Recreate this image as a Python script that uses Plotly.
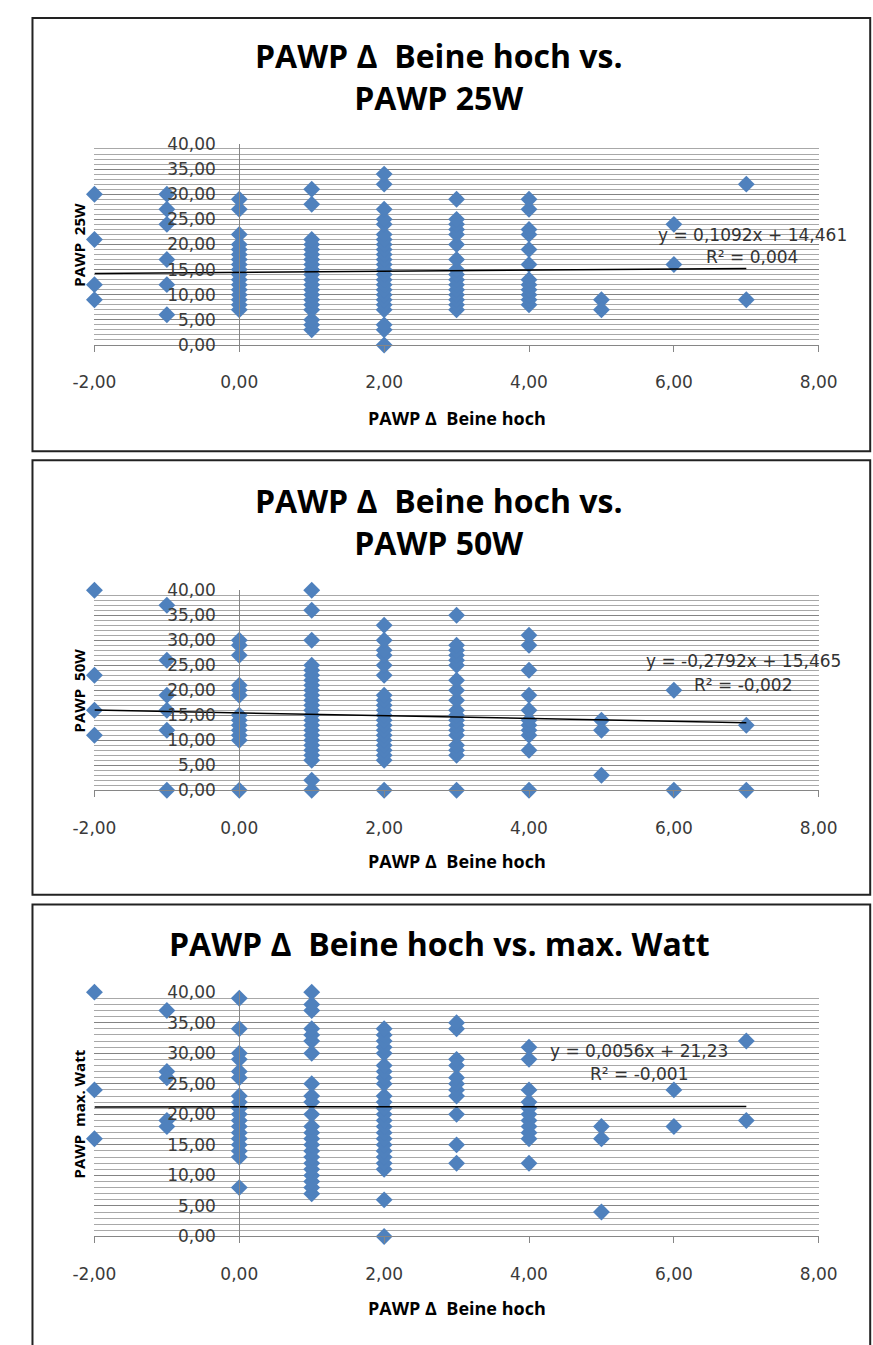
import plotly.graph_objects as go

# ---------------- data ----------------
# Panel 1: PAWP delta "Beine hoch" (x) vs PAWP 25W (y)
p1_x = ([-2] * 4 + [-1] * 6 + [0] * 17 + [1] * 20 + [2] * 24 + [3] * 16 + [4] * 12
        + [5] * 2 + [6] * 2 + [7] * 2)
p1_y = ([30, 21, 12, 9]
        + [30, 27, 24, 17, 12, 6]
        + [7, 8, 9, 10, 11, 12, 13, 14, 15, 16, 17, 18, 19, 20, 22, 27, 29]
        + [3, 4, 5, 7, 8, 9, 10, 11, 12, 13, 14, 15, 16, 17, 18, 19, 20, 21, 28, 31]
        + [0, 3, 4, 7, 8, 9, 10, 11, 12, 13, 14, 15, 16, 17, 18, 19, 20, 21, 22, 24, 25, 27, 32, 34]
        + [7, 8, 9, 10, 11, 12, 13, 14, 15, 17, 20, 22, 23, 24, 25, 29]
        + [8, 9, 10, 11, 12, 13, 16, 19, 22, 23, 27, 29]
        + [9, 7]
        + [24, 16]
        + [32, 9])

# Panel 2: PAWP delta vs PAWP 50W
p2_x = ([-2] * 4 + [-1] * 6 + [0] * 13 + [1] * 25 + [2] * 21 + [3] * 19 + [4] * 11
        + [5] * 3 + [6] * 2 + [7] * 2)
p2_y = ([40, 23, 16, 11]
        + [37, 26, 19, 16, 12, 0]
        + [0, 10, 11, 12, 13, 14, 15, 19, 20, 21, 27, 29, 30]
        + [0, 2, 6, 7, 8, 9, 10, 11, 12, 13, 14, 15, 16, 17, 18, 19, 20, 21, 22, 23, 24, 25, 30, 36, 40]
        + [0, 6, 7, 8, 9, 10, 11, 12, 13, 14, 15, 16, 17, 18, 19, 23, 25, 27, 28, 30, 33]
        + [0, 7, 8, 9, 11, 12, 13, 14, 15, 16, 18, 20, 22, 25, 26, 27, 28, 29, 35]
        + [0, 8, 11, 12, 13, 14, 16, 19, 24, 29, 31]
        + [14, 12, 3]
        + [20, 0]
        + [13, 0])

# Panel 3: PAWP delta vs max. Watt
p3_x = ([-2] * 3 + [-1] * 5 + [0] * 18 + [1] * 23 + [2] * 24 + [3] * 11 + [4] * 11
        + [5] * 3 + [6] * 2 + [7] * 2)
p3_y = ([40, 24, 16]
        + [37, 27, 26, 19, 18]
        + [8, 13, 14, 15, 16, 17, 18, 19, 20, 21, 22, 23, 26, 27, 29, 30, 34, 39]
        + [7, 8, 9, 10, 11, 12, 13, 14, 15, 16, 17, 18, 20, 22, 23, 25, 30, 32, 33, 34, 37, 38, 40]
        + [0, 6, 11, 12, 13, 14, 15, 16, 17, 18, 19, 20, 21, 22, 23, 25, 26, 27, 28, 30, 31, 32, 33, 34]
        + [12, 15, 20, 23, 24, 25, 26, 28, 29, 34, 35]
        + [12, 16, 17, 18, 19, 20, 21, 22, 24, 29, 31]
        + [18, 16, 4]
        + [24, 18]
        + [32, 19])

# Trend lines as printed on the chart
trend_slope = [0.1092, -0.2792, 0.0056]
trend_intercept = [14.461, 15.465, 21.23]
trend_eq = ["y = 0,1092x + 14,461", "y = -0,2792x + 15,465", "y = 0,0056x + 21,23"]
trend_r2 = ["R² = 0,004", "R² = -0,002", "R² = -0,001"]

titles = ["PAWP Δ  Beine hoch vs.<br>PAWP 25W",
          "PAWP Δ  Beine hoch vs.<br>PAWP 50W",
          "PAWP Δ  Beine hoch vs. max. Watt"]
y_titles = ["PAWP  25W", "PAWP  50W", "PAWP  max. Watt"]
x_title = "PAWP Δ  Beine hoch"

x_tick_vals = [-2, 0, 2, 4, 6, 8]
x_tick_text = ["-2,00", "0,00", "2,00", "4,00", "6,00", "8,00"]
y_tick_vals = [0, 5, 10, 15, 20, 25, 30, 35, 40]
y_tick_text = ["0,00", "5,00", "10,00", "15,00", "20,00", "25,00", "30,00", "35,00", "40,00"]

# ---------------- layout helpers ----------------
W, H = 873, 1345


def px_x(v):
    return v / W


def px_y(v):
    return 1 - v / H


MARKER = "#4F81BD"
GRID_MAJOR = "#848484"
GRID_MINOR = "#a8a8a8"
AXIS = "#868686"
TICKFONT = dict(family="DejaVu Sans", size=17, color="#3a3a3a")

plot_left, plot_right = 76, 836
panels = [  # (top px of y=40, bottom px of y=0)
    (136, 340),
    (589, 792),
    (997, 1245),
]
boxes = [(8, 448), (457, 898), (908, 1370)]
title_y = [67, 519, 948]
xtitle_y = [414, 864, 1318]
eq_pos = [(766, 228, 251), (757, 661, 685), (647, 1057, 1080)]

data_sets = [(p1_x, p1_y), (p2_x, p2_y), (p3_x, p3_y)]

fig = go.Figure()
layout = dict(
    width=W, height=H,
    margin=dict(l=0, r=0, t=0, b=0),
    paper_bgcolor="white", plot_bgcolor="white",
    showlegend=False,
    shapes=[], annotations=[],
)

xdom = [px_x(plot_left), px_x(plot_right)]
for i, ((xs, ys), (ptop, pbot)) in enumerate(zip(data_sets, panels)):
    n = "" if i == 0 else str(i + 1)
    xa, ya = "x" + n, "y" + n
    fig.add_trace(go.Scatter(
        x=xs, y=ys, mode="markers", xaxis=xa, yaxis=ya,
        marker=dict(symbol="diamond", size=13, color=MARKER),
        cliponaxis=False,
    ))
    x0, x1 = min(xs), max(xs)
    fig.add_trace(go.Scatter(
        x=[x0, x1],
        y=[trend_slope[i] * x0 + trend_intercept[i], trend_slope[i] * x1 + trend_intercept[i]],
        mode="lines", xaxis=xa, yaxis=ya,
        line=dict(color="black", width=1.5),
    ))
    layout["xaxis" + n] = dict(
        domain=xdom, anchor=ya, range=[-2, 8],
        tickmode="array", tickvals=x_tick_vals, ticktext=x_tick_text,
        showgrid=False, zeroline=False,
        showline=True, linecolor=AXIS, linewidth=1,
        ticks="outside", ticklen=6, tickcolor=AXIS,
        tickfont=TICKFONT, ticklabelstandoff=16,
        fixedrange=True,
    )
    layout["yaxis" + n] = dict(
        domain=[px_y(pbot), px_y(ptop)], anchor="free",
        position=px_x(plot_left + (plot_right - plot_left) * 0.2),
        range=[0, 40],
        tickmode="array", tickvals=y_tick_vals, ticktext=y_tick_text,
        showgrid=True, gridcolor=GRID_MAJOR, gridwidth=1,
        minor=dict(tickmode="linear", tick0=0, dtick=1, showgrid=True,
                   gridcolor=GRID_MINOR, gridwidth=1),
        zeroline=False, showline=True, linecolor=AXIS, linewidth=1,
        ticks="", tickfont=TICKFONT, ticklabelstandoff=20,
        fixedrange=True,
    )
    # chart box (right edge lies outside the cropped picture)
    layout["shapes"].append(dict(
        type="rect", xref="paper", yref="paper",
        x0=px_x(11), x1=px_x(890), y0=px_y(boxes[i][1]), y1=px_y(boxes[i][0]),
        line=dict(color="#222222", width=2), fillcolor="rgba(0,0,0,0)", layer="below",
    ))
    # chart title
    layout["annotations"].append(dict(
        text=titles[i], xref="paper", yref="paper",
        x=px_x(438), y=px_y(title_y[i]), xanchor="center", yanchor="middle",
        showarrow=False, font=dict(family="Open Sans", size=32, color="black", weight="bold"),
    ))
    # y-axis title
    layout["annotations"].append(dict(
        text=y_titles[i], xref="paper", yref="paper", textangle=-90,
        x=px_x(60), y=px_y((ptop + pbot) / 2), xanchor="center", yanchor="middle",
        showarrow=False, font=dict(family="Open Sans", size=15, color="black", weight="bold"),
    ))
    # x-axis title
    layout["annotations"].append(dict(
        text=x_title, xref="paper", yref="paper",
        x=px_x((plot_left + plot_right) / 2), y=px_y(xtitle_y[i]),
        xanchor="center", yanchor="middle",
        showarrow=False, font=dict(family="Open Sans", size=18, color="black", weight="bold"),
    ))
    # trend equation
    ex, ey1, ey2 = eq_pos[i]
    layout["annotations"].append(dict(
        text=trend_eq[i], xref="paper", yref="paper",
        x=px_x(ex), y=px_y(ey1), xanchor="center", yanchor="middle",
        showarrow=False, font=dict(family="DejaVu Sans", size=17, color="#333333"),
    ))
    layout["annotations"].append(dict(
        text=trend_r2[i], xref="paper", yref="paper",
        x=px_x(ex), y=px_y(ey2), xanchor="center", yanchor="middle",
        showarrow=False, font=dict(family="DejaVu Sans", size=17, color="#333333"),
    ))

fig.update_layout(**layout)
fig.write_html(
    "out.html",
    config={"displayModeBar": False, "responsive": False},
    post_script=("document.body.style.margin='0px';"
                 "document.body.style.overflow='hidden';"
                 "document.documentElement.style.overflow='hidden';"),
)
